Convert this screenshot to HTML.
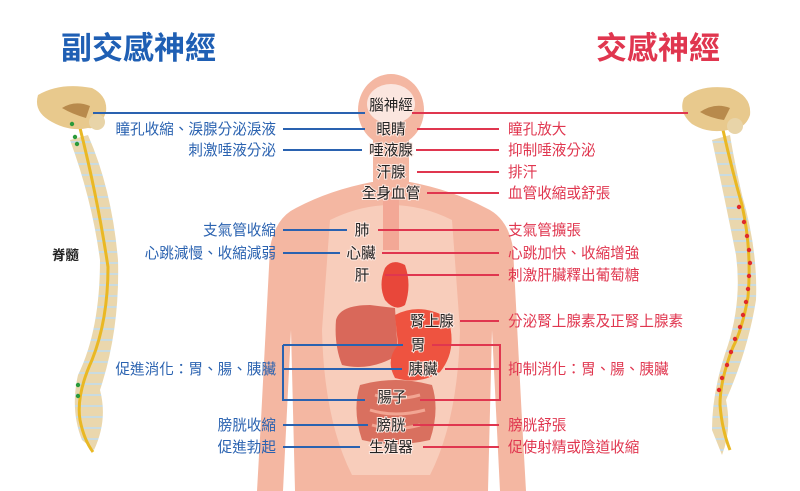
<!DOCTYPE html>
<html><head><meta charset="utf-8"><style>
html,body{margin:0;padding:0;background:#fff}
svg{display:block}
text{font-family:"Liberation Sans","Noto Sans CJK TC",sans-serif}
.b{fill:#2a62b0;font-size:14.6px}
.r{fill:#e0364f;font-size:14.6px}
.c{fill:#222;font-size:14.6px;text-anchor:middle;paint-order:stroke;stroke:#fde9e2;stroke-width:2px}
.bl{stroke:#2a62b0;stroke-width:2;fill:none}
.rl{stroke:#e0364f;stroke-width:2;fill:none}
</style></head><body>
<svg width="800" height="491" viewBox="0 0 800 491" xmlns="http://www.w3.org/2000/svg">
<defs>
<pattern id="vert" width="20" height="11" patternUnits="userSpaceOnUse">
<rect width="20" height="11" fill="#ead7ad"/><rect y="9" width="20" height="2" fill="#c9dbe0"/>
</pattern>
</defs>
<text x="61" y="59" style="font-size:31px;font-weight:bold;fill:#1f5fb4">副交感神經</text>
<text x="596" y="59" style="font-size:31px;font-weight:bold;fill:#e0364f">交感神經</text>

<g fill="#f4b7a2">
<ellipse cx="391" cy="110" rx="33" ry="36"/>
<rect x="373" y="140" width="36" height="50"/>
<path d="M296 208 Q330 190 372 182 L410 182 Q452 190 486 208 Q508 218 513 248 L522 420 L526 491 L500 491 L492 330 L488 491 L295 491 L291 330 L283 491 L257 491 L261 420 L270 248 Q275 218 296 208Z"/>
</g>
<path d="M330 220 Q360 205 391 205 Q422 205 452 220 L460 330 Q458 420 430 475 L352 475 Q324 420 322 330Z" fill="#f8cdbb"/>
<ellipse cx="391" cy="104" rx="24" ry="20" fill="#fbe6df"/>
<rect x="383" y="190" width="16" height="60" fill="#f3a896"/>
<path d="M336 320 Q340 305 370 305 L395 308 L398 355 Q370 372 342 365 Q334 345 336 320Z" fill="#d9685a"/>
<path d="M385 268 Q392 258 405 265 Q412 285 405 305 Q395 312 385 300 Q378 285 385 268Z" fill="#e8473a"/>
<path d="M395 315 Q420 302 448 318 Q458 350 440 372 Q420 385 395 378 Q385 360 398 345Z" fill="#ee5340"/>
<path d="M360 385 Q395 375 432 385 Q440 410 430 440 Q395 448 362 440 Q352 410 360 385Z" fill="#d9705f"/>
<path d="M375 395 Q395 402 420 395 M370 410 Q395 418 425 410 M372 425 Q395 432 420 425" stroke="#f2a592" stroke-width="3" fill="none"/>

<path d="M70 140 Q92 200 100 260 Q100 330 78 375 Q70 410 82 440 L94 450 Q108 420 100 390 Q120 330 118 260 Q112 190 88 135Z" fill="url(#vert)"/>
<path d="M80 128 Q98 200 108 267 Q108 320 92 360 Q76 395 80 420 Q84 440 93 452" stroke="#e9b824" stroke-width="3" fill="none"/>
<path d="M38 95 Q60 82 92 88 Q108 96 106 112 Q100 130 88 128 Q70 132 52 122 Q33 112 38 95Z" fill="#e8c98d"/>
<path d="M62 108 Q75 100 90 106 L86 118 Q72 114 62 108Z" fill="#b88a4c"/>
<circle cx="97" cy="122" r="8" fill="#e8d4a8"/>
<g fill="#2a9a3a"><circle cx="72" cy="124" r="2.2"/><circle cx="75" cy="137" r="2.2"/><circle cx="77" cy="144" r="2.2"/><circle cx="78" cy="385" r="2.2"/><circle cx="78" cy="396" r="2.2"/></g>
<text x="52" y="260" style="font-size:13.5px;font-weight:bold;fill:#222">脊髓</text>

<path d="M712 140 Q725 200 736 255 Q742 300 728 345 Q712 390 712 430 L722 455 Q732 430 726 400 Q748 350 756 300 Q758 250 742 195 Q734 160 730 135Z" fill="url(#vert)"/>
<path d="M723 130 Q732 170 742 205 Q752 250 748 297 Q742 330 733 347 Q720 380 720 405 Q722 430 730 450" stroke="#e9b824" stroke-width="3" fill="none"/>
<path d="M684 98 Q700 84 730 88 Q752 96 750 115 Q745 130 728 130 Q708 134 692 124 Q678 112 684 98Z" fill="#e8c98d"/>
<path d="M700 112 Q715 102 730 108 L724 120 Q710 118 700 112Z" fill="#b88a4c"/>
<circle cx="735" cy="126" r="8" fill="#e8d4a8"/>
<g fill="#e02a2a"><circle cx="739" cy="207" r="2.2"/><circle cx="744" cy="222" r="2.2"/><circle cx="747" cy="236" r="2.2"/><circle cx="749" cy="250" r="2.2"/><circle cx="750" cy="263" r="2.2"/><circle cx="749" cy="276" r="2.2"/><circle cx="748" cy="289" r="2.2"/><circle cx="746" cy="302" r="2.2"/><circle cx="743" cy="315" r="2.2"/><circle cx="740" cy="327" r="2.2"/><circle cx="735" cy="339" r="2.2"/><circle cx="731" cy="352" r="2.2"/><circle cx="727" cy="365" r="2.2"/><circle cx="722" cy="378" r="2.2"/><circle cx="719" cy="390" r="2.2"/></g>

<path class="bl" d="M93 113H365 M283 129H365 M283 150H362 M283 230H347 M283 253H340 M283 345H403 M283 345V400H365 M283 369H402 M283 425H368 M283 447H360"/>
<path class="rl" d="M412 113H688 M417 129H499 M416 150H499 M417 172H499 M427 193H499 M378 230H499 M382 253H499 M385 275H499 M460 321H499 M432 345H500V400H420 M445 369H500 M413 425H499 M423 447H499"/>

<text class="c" x="391" y="110">腦神經</text>
<text class="c" x="391" y="134">眼睛</text>
<text class="c" x="391" y="155">唾液腺</text>
<text class="c" x="391" y="177">汗腺</text>
<text class="c" x="391" y="198">全身血管</text>
<text class="c" x="362" y="235">肺</text>
<text class="c" x="361" y="258">心臟</text>
<text class="c" x="362" y="280">肝</text>
<text class="c" x="432" y="326">腎上腺</text>
<text class="c" x="418" y="350">胃</text>
<text class="c" x="423" y="374">胰臟</text>
<text class="c" x="392" y="402">腸子</text>
<text class="c" x="391" y="430">膀胱</text>
<text class="c" x="391" y="452">生殖器</text>

<g class="b" text-anchor="end">
<text x="276" y="134">瞳孔收縮、淚腺分泌淚液</text>
<text x="276" y="155">刺激唾液分泌</text>
<text x="276" y="235">支氣管收縮</text>
<text x="276" y="258">心跳減慢、收縮減弱</text>
<text x="276" y="374">促進消化：胃、腸、胰臟</text>
<text x="276" y="430">膀胱收縮</text>
<text x="276" y="452">促進勃起</text>
</g>
<g class="r">
<text x="508" y="134">瞳孔放大</text>
<text x="508" y="155">抑制唾液分泌</text>
<text x="508" y="177">排汗</text>
<text x="508" y="198">血管收縮或舒張</text>
<text x="508" y="235">支氣管擴張</text>
<text x="508" y="258">心跳加快、收縮增強</text>
<text x="508" y="280">刺激肝臟釋出葡萄糖</text>
<text x="508" y="326">分泌腎上腺素及正腎上腺素</text>
<text x="508" y="374">抑制消化：胃、腸、胰臟</text>
<text x="508" y="430">膀胱舒張</text>
<text x="508" y="452">促使射精或陰道收縮</text>
</g>
</svg>
</body></html>
